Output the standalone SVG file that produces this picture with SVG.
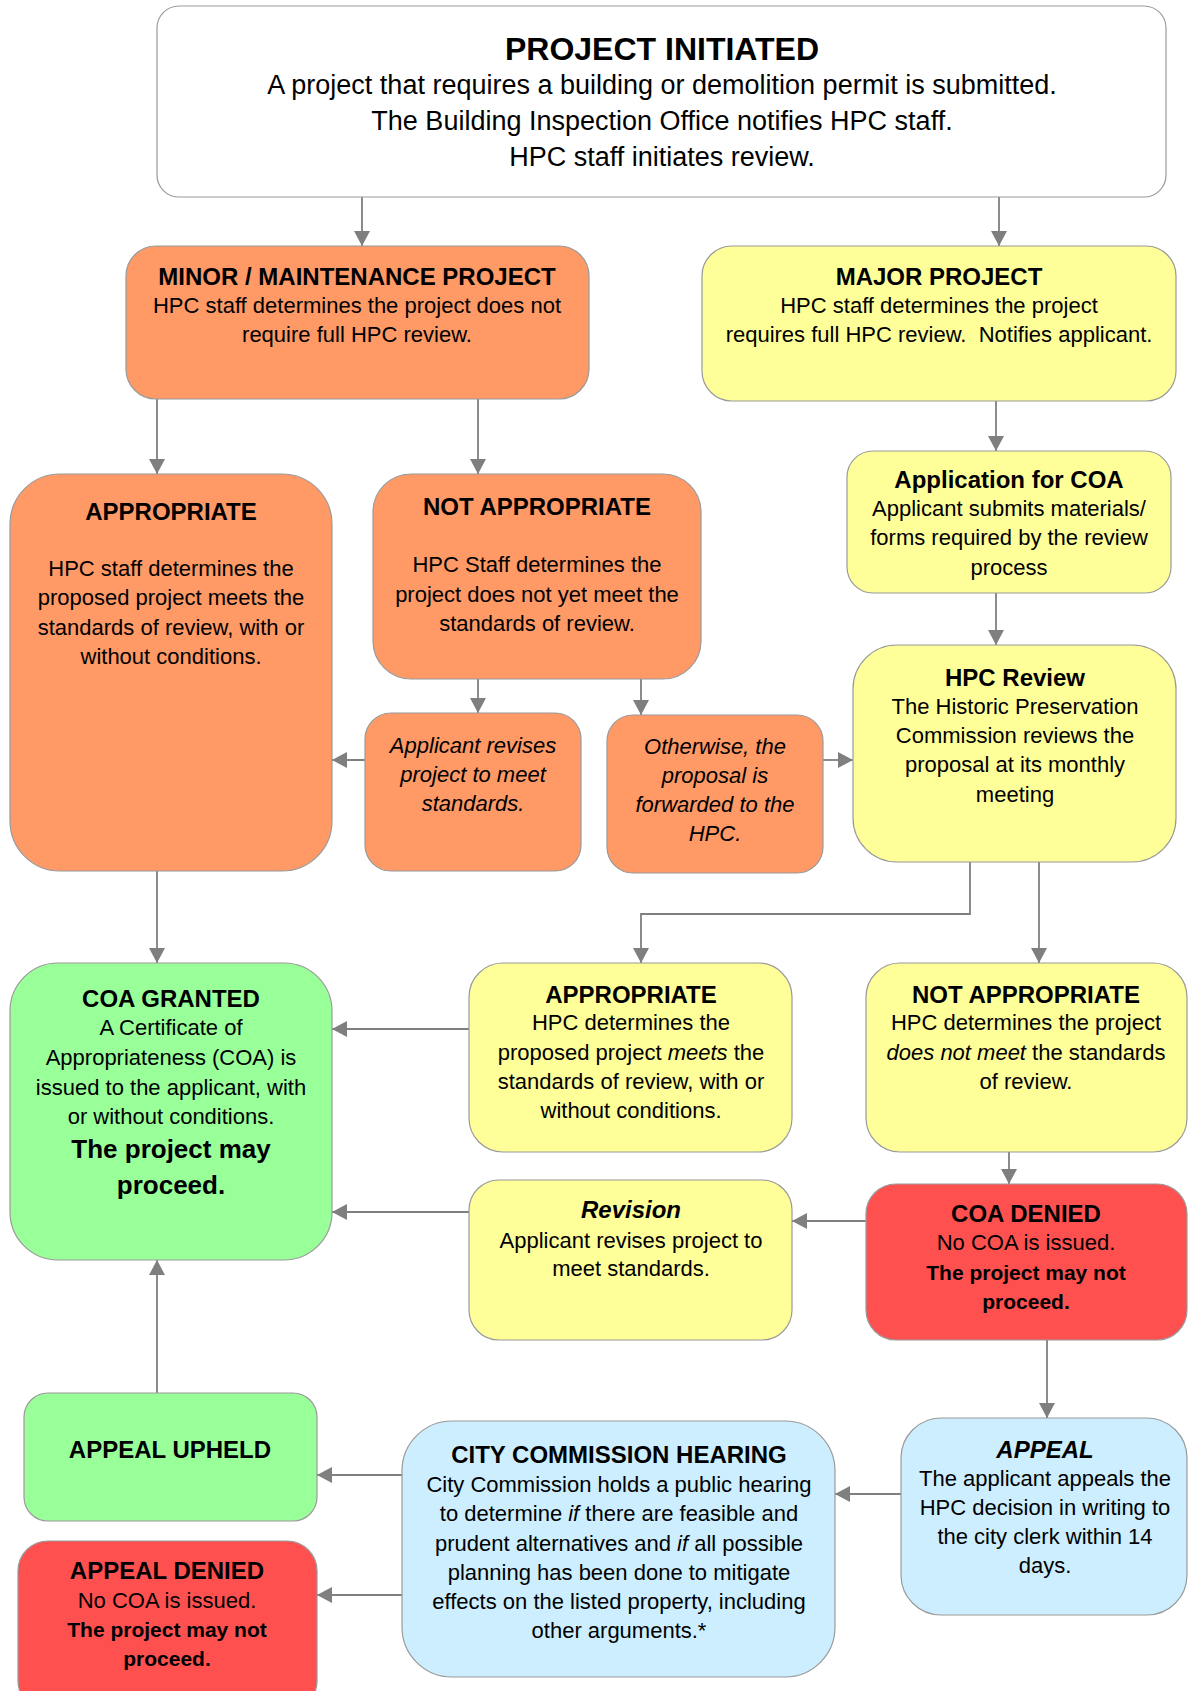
<svg xmlns="http://www.w3.org/2000/svg" width="1189" height="1691" viewBox="0 0 1189 1691">
<defs>
<style>
.box{stroke:#9a9a9a;stroke-width:1.2}
.w{fill:#ffffff}.o{fill:#ff9966}.y{fill:#ffff99}.g{fill:#99ff99}.r{fill:#ff5050}.b{fill:#cceeff}
text{font-family:"Liberation Sans",Arial,sans-serif;fill:#000;text-anchor:middle}
.t{font-size:24px;font-weight:bold}
.tt{font-size:32px;font-weight:bold}
.s{font-size:22px}
.sl{font-size:27px}
.bd{font-size:21px;font-weight:bold}
.bg{font-size:26px;font-weight:bold}
.i{font-style:italic}
.c{fill:none;stroke:#7f7f7f;stroke-width:1.8}
</style>
<marker id="ah" viewBox="0 0 15 16" refX="15" refY="8" markerWidth="15" markerHeight="16" markerUnits="userSpaceOnUse" orient="auto">
<path d="M0,0 L15,8 L0,16 z" fill="#7f7f7f"/>
</marker>
</defs>

<g id="connectors">
<path class="c" d="M362,197 V246" marker-end="url(#ah)"/>
<path class="c" d="M999,197 V246" marker-end="url(#ah)"/>
<path class="c" d="M157,399 V474" marker-end="url(#ah)"/>
<path class="c" d="M478,399 V474" marker-end="url(#ah)"/>
<path class="c" d="M996,401 V451" marker-end="url(#ah)"/>
<path class="c" d="M996,593 V645" marker-end="url(#ah)"/>
<path class="c" d="M478,679 V713" marker-end="url(#ah)"/>
<path class="c" d="M641,679 V715" marker-end="url(#ah)"/>
<path class="c" d="M365,760 H332" marker-end="url(#ah)"/>
<path class="c" d="M823,760 H853" marker-end="url(#ah)"/>
<path class="c" d="M157,871 V963" marker-end="url(#ah)"/>
<path class="c" d="M970,862 V914 H641 V963" marker-end="url(#ah)"/>
<path class="c" d="M1039,862 V963" marker-end="url(#ah)"/>
<path class="c" d="M469,1029 H332" marker-end="url(#ah)"/>
<path class="c" d="M469,1212 H332" marker-end="url(#ah)"/>
<path class="c" d="M1009,1152 V1184" marker-end="url(#ah)"/>
<path class="c" d="M866,1221 H792" marker-end="url(#ah)"/>
<path class="c" d="M1047,1340 V1418" marker-end="url(#ah)"/>
<path class="c" d="M901,1494 H835" marker-end="url(#ah)"/>
<path class="c" d="M402,1475 H317" marker-end="url(#ah)"/>
<path class="c" d="M402,1595 H317" marker-end="url(#ah)"/>
<path class="c" d="M157,1393 V1260" marker-end="url(#ah)"/>
</g>

<g id="project-initiated">
<rect class="box w" x="157" y="6" width="1009" height="191" rx="22"/>
<text class="tt" x="662" y="60">PROJECT INITIATED</text>
<text class="sl" x="662" y="94">A project that requires a building or demolition permit is submitted.</text>
<text class="sl" x="662" y="130">The Building Inspection Office notifies HPC staff.</text>
<text class="sl" x="662" y="166">HPC staff initiates review.</text>
</g>

<g id="minor-project">
<rect class="box o" x="126" y="246" width="463" height="153" rx="30"/>
<text class="t" x="357" y="285">MINOR / MAINTENANCE PROJECT</text>
<text class="s" x="357" y="313">HPC staff determines the project does not</text>
<text class="s" x="357" y="342">require full HPC review.</text>
</g>

<g id="major-project">
<rect class="box y" x="702" y="246" width="474" height="155" rx="30"/>
<text class="t" x="939" y="285">MAJOR PROJECT</text>
<text class="s" x="939" y="313">HPC staff determines the project</text>
<text class="s" x="939" y="342">requires full HPC review.&#160; Notifies applicant.</text>
</g>

<g id="staff-appropriate">
<rect class="box o" x="10" y="474" width="322" height="397" rx="50"/>
<text class="t" x="171" y="520">APPROPRIATE</text>
<text class="s" x="171" y="576">HPC staff determines the</text>
<text class="s" x="171" y="605">proposed project meets the</text>
<text class="s" x="171" y="635">standards of review, with or</text>
<text class="s" x="171" y="664">without conditions.</text>
</g>

<g id="staff-not-appropriate">
<rect class="box o" x="373" y="474" width="328" height="205" rx="38"/>
<text class="t" x="537" y="515">NOT APPROPRIATE</text>
<text class="s" x="537" y="572">HPC Staff determines the</text>
<text class="s" x="537" y="602">project does not yet meet the</text>
<text class="s" x="537" y="631">standards of review.</text>
</g>

<g id="applicant-revises">
<rect class="box o" x="365" y="713" width="216" height="158" rx="26"/>
<text class="s i" x="473" y="753">Applicant revises</text>
<text class="s i" x="473" y="782">project to meet</text>
<text class="s i" x="473" y="811">standards.</text>
</g>

<g id="forwarded">
<rect class="box o" x="607" y="715" width="216" height="158" rx="26"/>
<text class="s i" x="715" y="754">Otherwise, the</text>
<text class="s i" x="715" y="783">proposal is</text>
<text class="s i" x="715" y="812">forwarded to the</text>
<text class="s i" x="715" y="841">HPC.</text>
</g>

<g id="application-coa">
<rect class="box y" x="847" y="451" width="324" height="142" rx="26"/>
<text class="t" x="1009" y="488">Application for COA</text>
<text class="s" x="1009" y="516">Applicant submits materials/</text>
<text class="s" x="1009" y="545">forms required by the review</text>
<text class="s" x="1009" y="575">process</text>
</g>

<g id="hpc-review">
<rect class="box y" x="853" y="645" width="323" height="217" rx="44"/>
<text class="t" x="1015" y="686">HPC Review</text>
<text class="s" x="1015" y="714">The Historic Preservation</text>
<text class="s" x="1015" y="743">Commission reviews the</text>
<text class="s" x="1015" y="772">proposal at its monthly</text>
<text class="s" x="1015" y="802">meeting</text>
</g>

<g id="coa-granted">
<rect class="box g" x="10" y="963" width="322" height="297" rx="48"/>
<text class="t" x="171" y="1007">COA GRANTED</text>
<text class="s" x="171" y="1035">A Certificate of</text>
<text class="s" x="171" y="1065">Appropriateness (COA) is</text>
<text class="s" x="171" y="1095">issued to the applicant, with</text>
<text class="s" x="171" y="1124">or without conditions.</text>
<text class="bg" x="171" y="1158">The project may</text>
<text class="bg" x="171" y="1194">proceed.</text>
</g>

<g id="hpc-appropriate">
<rect class="box y" x="469" y="963" width="323" height="189" rx="34"/>
<text class="t" x="631" y="1003">APPROPRIATE</text>
<text class="s" x="631" y="1030">HPC determines the</text>
<text class="s" x="631" y="1060">proposed project <tspan class="i">meets</tspan> the</text>
<text class="s" x="631" y="1089">standards of review, with or</text>
<text class="s" x="631" y="1118">without conditions.</text>
</g>

<g id="hpc-not-appropriate">
<rect class="box y" x="866" y="963" width="321" height="189" rx="34"/>
<text class="t" x="1026" y="1003">NOT APPROPRIATE</text>
<text class="s" x="1026" y="1030">HPC determines the project</text>
<text class="s" x="1026" y="1060"><tspan class="i">does not meet</tspan> the standards</text>
<text class="s" x="1026" y="1089">of review.</text>
</g>

<g id="revision">
<rect class="box y" x="469" y="1180" width="323" height="160" rx="30"/>
<text class="t i" x="631" y="1218">Revision</text>
<text class="s" x="631" y="1248">Applicant revises project to</text>
<text class="s" x="631" y="1276">meet standards.</text>
</g>

<g id="coa-denied">
<rect class="box r" x="866" y="1184" width="321" height="156" rx="30"/>
<text class="t" x="1026" y="1222">COA DENIED</text>
<text class="s" x="1026" y="1250">No COA is issued.</text>
<text class="bd" x="1026" y="1280">The project may not</text>
<text class="bd" x="1026" y="1309">proceed.</text>
</g>

<g id="appeal-upheld">
<rect class="box g" x="24" y="1393" width="293" height="128" rx="24"/>
<text class="t" x="170" y="1458">APPEAL UPHELD</text>
</g>

<g id="appeal-denied">
<rect class="box r" x="18" y="1541" width="299" height="170" rx="30"/>
<text class="t" x="167" y="1579">APPEAL DENIED</text>
<text class="s" x="167" y="1608">No COA is issued.</text>
<text class="bd" x="167" y="1637">The project may not</text>
<text class="bd" x="167" y="1666">proceed.</text>
</g>

<g id="city-commission-hearing">
<rect class="box b" x="402" y="1421" width="433" height="256" rx="50"/>
<text class="t" x="619" y="1463">CITY COMMISSION HEARING</text>
<text class="s" x="619" y="1492">City Commission holds a public hearing</text>
<text class="s" x="619" y="1521">to determine <tspan class="i">if</tspan> there are feasible and</text>
<text class="s" x="619" y="1551">prudent alternatives and <tspan class="i">if</tspan> all possible</text>
<text class="s" x="619" y="1580">planning has been done to mitigate</text>
<text class="s" x="619" y="1609">effects on the listed property, including</text>
<text class="s" x="619" y="1638">other arguments.*</text>
</g>

<g id="appeal">
<rect class="box b" x="901" y="1418" width="286" height="197" rx="40"/>
<text class="t i" x="1045" y="1458">APPEAL</text>
<text class="s" x="1045" y="1486">The applicant appeals the</text>
<text class="s" x="1045" y="1515">HPC decision in writing to</text>
<text class="s" x="1045" y="1544">the city clerk within 14</text>
<text class="s" x="1045" y="1573">days.</text>
</g>
</svg>
